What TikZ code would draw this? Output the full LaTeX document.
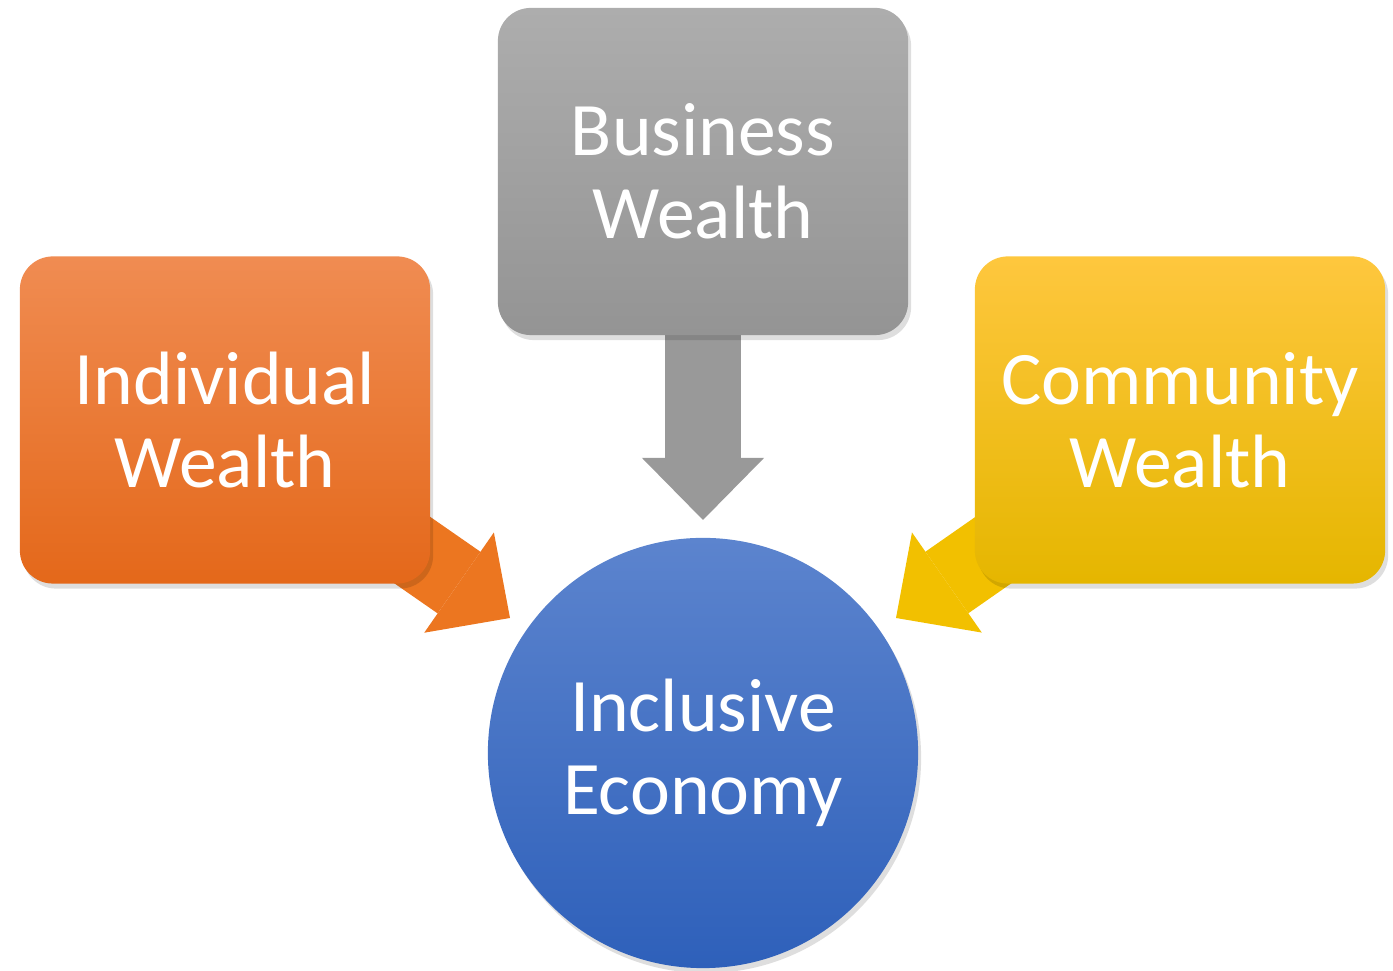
\documentclass[tikz,border=0pt]{standalone}
\usepackage{fontspec}
\setmainfont{Carlito}
\usetikzlibrary{arrows.meta,shadows,backgrounds}
\definecolor{busTop}{RGB}{173,173,173}
\definecolor{busBot}{RGB}{148,148,148}
\definecolor{indTop}{RGB}{240,140,82}
\definecolor{indMid}{RGB}{244,124,38}
\definecolor{indBot}{RGB}{228,104,26}
\definecolor{comTop}{RGB}{254,199,62}
\definecolor{comMid}{RGB}{255,192,0}
\definecolor{comBot}{RGB}{229,182,0}
\definecolor{ecoTop}{RGB}{92,132,206}
\definecolor{ecoBot}{RGB}{46,96,186}
\definecolor{busFlow}{RGB}{153,153,153}
\definecolor{indFlow}{RGB}{236,118,32}
\definecolor{comFlow}{RGB}{242,192,0}
\tikzset{
  soft/.style={drop shadow={shadow xshift=0.03cm, shadow yshift=-0.05cm, opacity=0.13, fill=black}},
  wealth/.style={rectangle, rounded corners=0.33cm, minimum width=4.1cm, minimum height=3.27cm,
    inner sep=0pt, text=white, align=center, font=\fontsize{21.5}{23.7}\selectfont, soft},
  flow/.style={line width=0.75cm, -{Triangle[width=1.22cm, length=0.62cm, line width=0pt]}}
}
\begin{document}
\begin{tikzpicture}[x=0.01cm, y=-0.01cm]
\useasboundingbox (0,0) rectangle (1393,971);
\node[wealth, top color=busTop, bottom color=busBot] (bus) at (703,171.5){Business\\Wealth};
\node[wealth, top color=indTop, middle color=indMid, bottom color=indBot] (ind) at (225,420){Individual\\Wealth};
\node[wealth, top color=comTop, middle color=comMid, bottom color=comBot] (com) at (1180,420){Community\\Wealth};
\node[circle, minimum size=4.3cm, inner sep=0pt, top color=ecoTop, bottom color=ecoBot, text=white, align=center,
  font=\fontsize{21.5}{23.7}\selectfont, soft] (eco) at (703,753){Inclusive\\Economy};
\coordinate (tipB) at (703,520);
\coordinate (tipL) at (510,618);
\coordinate (tipR) at (896,618);
\begin{pgfonlayer}{background}
\draw[flow, busFlow](bus.center) -- (tipB);
\draw[flow, indFlow](ind.center) -- (tipL);
\draw[flow, comFlow](com.center) -- (tipR);
\end{pgfonlayer}
\end{tikzpicture}
\end{document}
